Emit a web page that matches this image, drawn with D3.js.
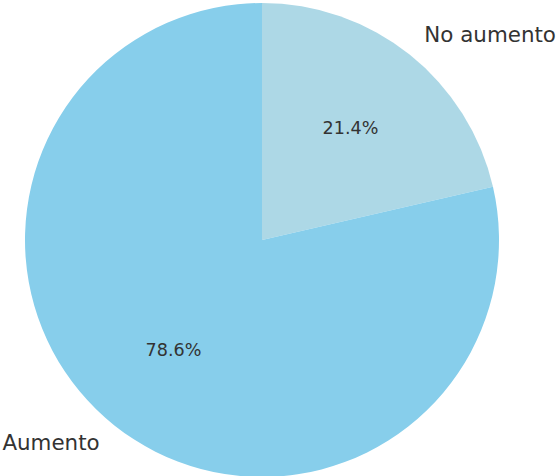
<!DOCTYPE html>
<html>
<head>
<meta charset="utf-8">
<script src="https://cdn.jsdelivr.net/npm/d3@7"></script>
<style>
  html, body { margin: 0; padding: 0; background: #fff; }
  svg { display: block; }
</style>
</head>
<body>
<svg id="chart" width="557" height="476"></svg>
<script>
// Share of responses
const categories = ["No aumento", "Aumento"];
const values = [21.4, 78.6];
const colors = ["#ADD8E6", "#87CEEB"];

const width = 557, height = 476;
const cx = 262, cy = 240, radius = 237;

const svg = d3.select("#chart");
const g = svg.append("g").attr("transform", `translate(${cx},${cy})`);

const data = categories.map((c, i) => ({ category: c, value: values[i], color: colors[i] }));

// Slices run clockwise from twelve o'clock
const pie = d3.pie().value(d => d.value).sort(null);
const arcs = pie(data);

const arc = d3.arc().innerRadius(0).outerRadius(radius);

g.selectAll("path.slice")
  .data(arcs)
  .join("path")
  .attr("class", "slice")
  .attr("d", arc)
  .attr("fill", d => d.data.color);

const total = d3.sum(values);
const mid = d => (d.startAngle + d.endAngle) / 2;

// Percentages inside the slices
g.selectAll("text.pct")
  .data(arcs)
  .join("text")
  .attr("class", "pct")
  .attr("x", d => Math.sin(mid(d)) * radius * 0.6)
  .attr("y", d => -Math.cos(mid(d)) * radius * 0.6 - 1)
  .attr("text-anchor", "middle")
  .attr("dominant-baseline", "central")
  .attr("font-family", "DejaVu Sans, sans-serif")
  .attr("font-size", 17.6)
  .attr("fill", "#333333")
  .text(d => (d.data.value / total * 100).toFixed(1) + "%");

// Category names outside the pie
g.selectAll("text.cat")
  .data(arcs)
  .join("text")
  .attr("class", "cat")
  .attr("x", d => Math.sin(mid(d)) * radius * 1.1)
  .attr("y", d => -Math.cos(mid(d)) * radius * 1.1 - 1.5)
  .attr("text-anchor", d => Math.sin(mid(d)) >= 0 ? "start" : "end")
  .attr("dominant-baseline", "central")
  .attr("font-family", "DejaVu Sans, sans-serif")
  .attr("font-size", 21.4)
  .attr("fill", "#333333")
  .text(d => d.data.category);
</script>
</body>
</html>
